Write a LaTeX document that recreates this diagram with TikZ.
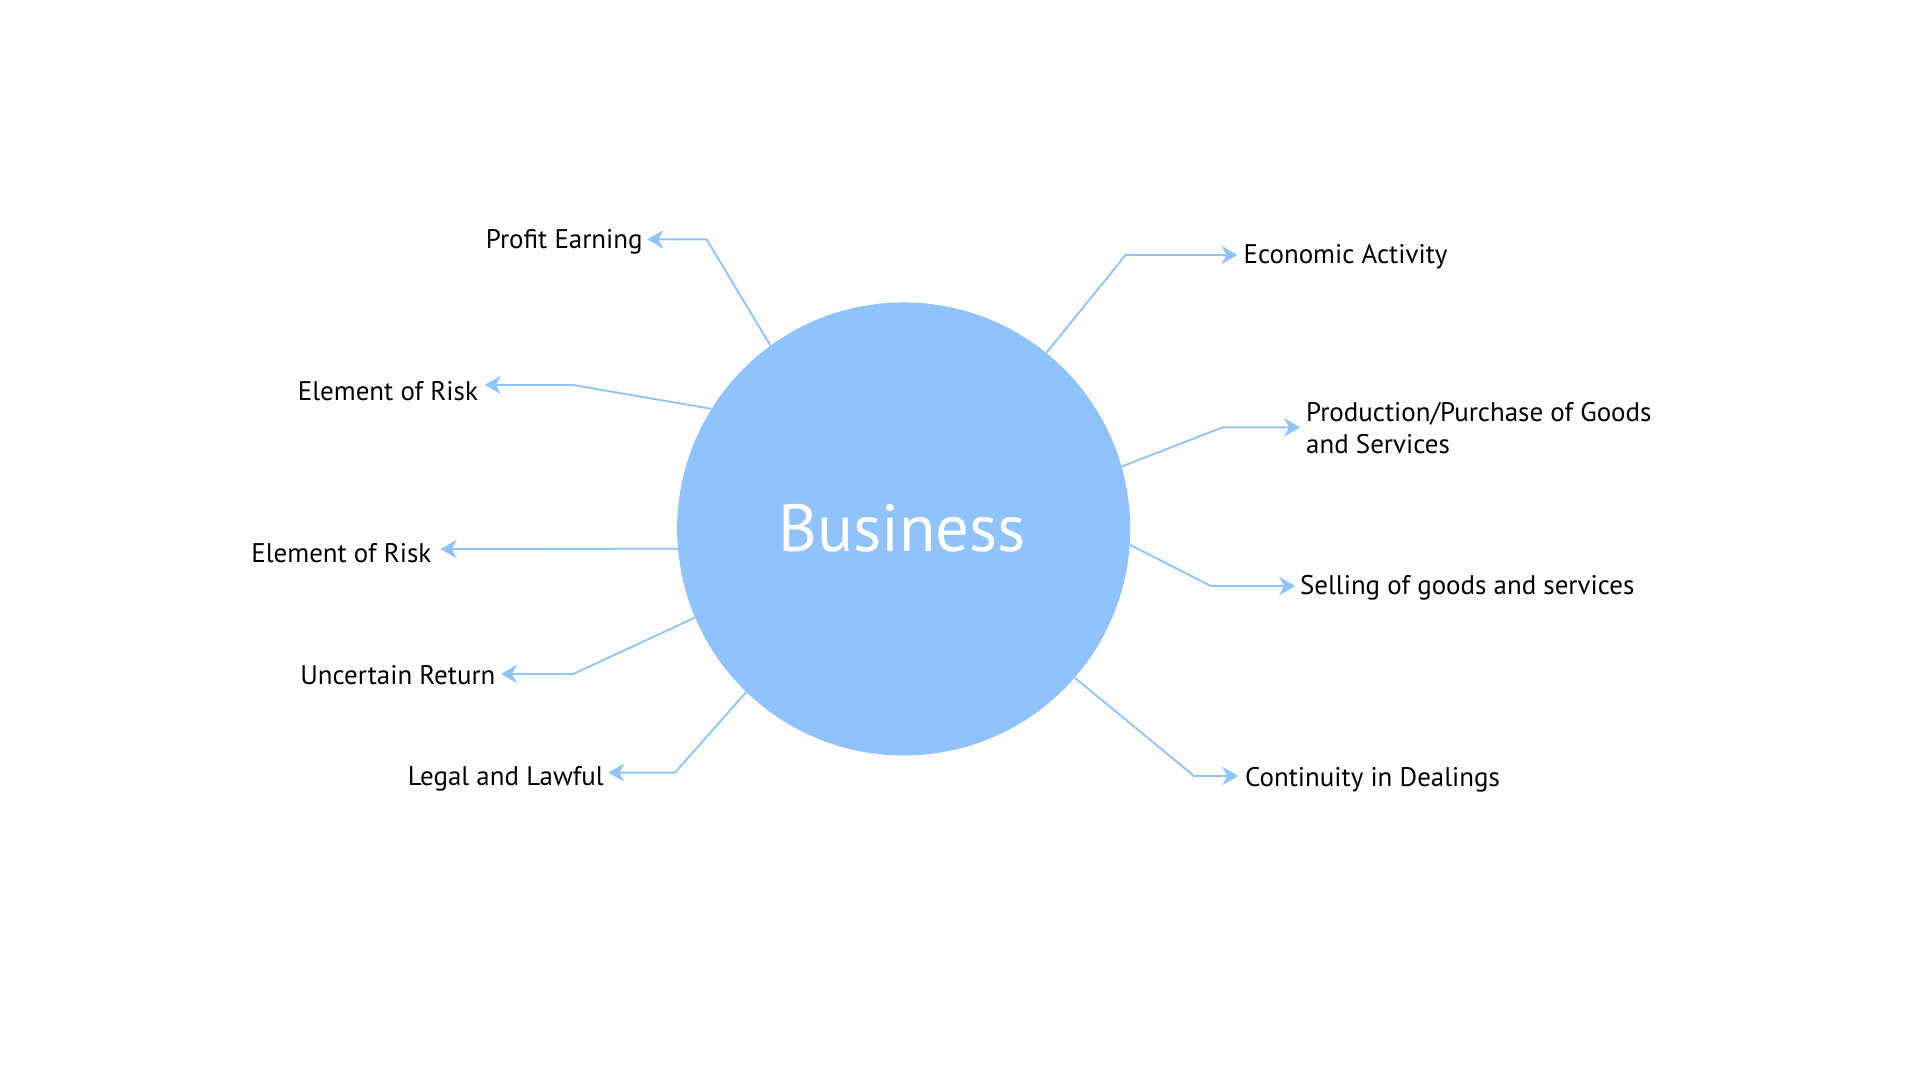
\documentclass[tikz,border=0pt]{standalone}
\usepackage{fontspec}
\setmainfont{PT Sans}
\usetikzlibrary{arrows.meta}
\definecolor{bizblue}{RGB}{144,195,252}
\tikzset{
  link/.style={draw=bizblue, line width=1.5pt, -{Stealth[length=13pt,width=15pt,inset=4pt]}},
  lbl/.style={inner sep=0pt, font=\fontsize{22}{26}\selectfont, text=black},
  lbll/.style={lbl, anchor=base east},
  lblr/.style={lbl, anchor=base west},
}
\begin{document}
\begin{tikzpicture}[x=1pt,y=-1pt]
\useasboundingbox (0,0) rectangle (1568,882);
\node[circle, fill=bizblue, minimum size=370pt, inner sep=0pt] (biz) at (738,432) {};
\node[text=white, font=\fontsize{54.5}{60}\selectfont, anchor=base] (biztext) at (736.5,450.5) {Business};

% left labels
\node[lbll] (pe) at (525,203) {Profit Earning};
\node[lbll] (er1) at (390.5,326.7) {Element of Risk};
\node[lbll] (er2) at (352.5,459.2) {Element of Risk};
\node[lbll] (ur) at (404.8,559.4) {Uncertain Return};
\node[lbll] (ll) at (493.3,641.1) {Legal and Lawful};
% right labels
\node[lblr] (ea) at (1015.4,215.1) {Economic Activity};
\node[lblr] (pp) at (1066.5,344.4) {\begin{tabular}[t]{@{}l@{}}Production/Purchase of Goods\\and Services\end{tabular}};
\node[lblr] (sg) at (1061.5,485.9) {Selling of goods and services};
\node[lblr] (cd) at (1016.7,641.9) {Continuity in Dealings};

% elbows and tips
\coordinate (pe-e) at (577.1,195.5);  \coordinate (pe-t) at (528.6,195.5);
\coordinate (er1-e) at (467.7,314.4); \coordinate (er1-t) at (396,314.4);
\coordinate (er2-t) at (359.9,448.4);
\coordinate (ur-e) at (468.2,550.4);  \coordinate (ur-t) at (409.2,550.4);
\coordinate (ll-e) at (551.2,631);    \coordinate (ll-t) at (496.8,631);
\coordinate (ea-e) at (919.3,208.2);  \coordinate (ea-t) at (1010.5,208.2);
\coordinate (pp-e) at (998.5,349);    \coordinate (pp-t) at (1061.7,349);
\coordinate (sg-e) at (989,478.6);    \coordinate (sg-t) at (1057.7,478.6);
\coordinate (cd-e) at (975.1,633.7);  \coordinate (cd-t) at (1011.3,633.7);

\draw[link] (biz.126.2) -- (pe-e) -- (pe-t);
\draw[link] (biz.148.3) -- (er1-e) -- (er1-t);
\draw[link] (biz.185.1) -- (er2-t);
\draw[link] (biz.203.3) -- (ur-e) -- (ur-t);
\draw[link] (biz.226.8) -- (ll-e) -- (ll-t);
\draw[link] (biz.51.7) -- (ea-e) -- (ea-t);
\draw[link] (biz.16.3) -- (pp-e) -- (pp-t);
\draw[link] (biz.-4.4) -- (sg-e) -- (sg-t);
\draw[link] (biz.-41.3) -- (cd-e) -- (cd-t);
\end{tikzpicture}
\end{document}
